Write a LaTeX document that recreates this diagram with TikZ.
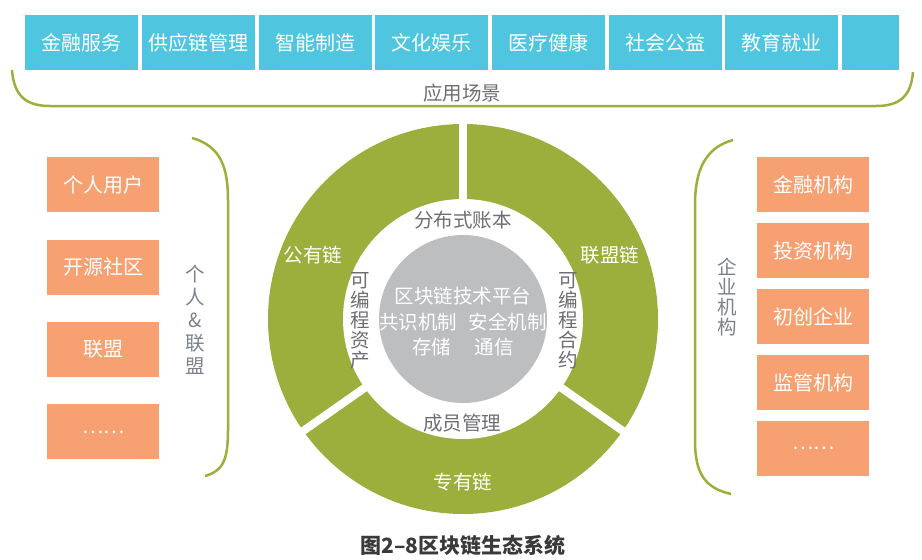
\documentclass[tikz,border=0pt]{standalone}
\usepackage{fontspec}
\setmainfont{Noto Sans CJK SC}
\usetikzlibrary{positioning}
\definecolor{scenecyan}{HTML}{4FC5E0}
\definecolor{partyorange}{HTML}{F7A072}
\definecolor{ringgreen}{HTML}{9CAF3C}
\definecolor{coregray}{HTML}{BDBEC0}
\definecolor{labelgray}{HTML}{6D6E71}
\definecolor{sidegray}{HTML}{7C818B}
\definecolor{captiongray}{HTML}{3A3A3C}

\begin{document}
\begin{tikzpicture}[x=1pt, y=-1pt, node distance=3.3pt,
    scene/.style={fill=scenecyan, text=white, minimum width=113pt, minimum height=55pt, inner sep=0pt, font=\fontsize{20}{20}\selectfont},
    party/.style={fill=partyorange, text=white, minimum width=112pt, minimum height=55pt, inner sep=0pt, font=\fontsize{20}{20}\selectfont},
    brace/.style={draw=ringgreen, line width=2.5pt},
    ringtext/.style={text=labelgray, font=\fontsize{19.5}{19.5}\selectfont},
    vtext/.style={align=center, inner sep=0pt, text=labelgray, font=\fontsize{19.5}{20}\selectfont},
    chain/.style={text=white, font=\fontsize{19.5}{19.5}\selectfont}]
    \useasboundingbox (0,0) rectangle (922,560);

    \node[scene, anchor=north west] (finance) at (25,15) {金融服务};
    \node[scene, right=of finance] (supply) {供应链管理};
    \node[scene, right=of supply] (making) {智能制造};
    \node[scene, right=of making] (culture) {文化娱乐};
    \node[scene, right=of culture] (health) {医疗健康};
    \node[scene, right=of health] (welfare) {社会公益};
    \node[scene, right=of welfare] (education) {教育就业};
    \node[scene, right=of education, minimum width=57pt] (scenemore) {};
    \draw[brace] (12,70) .. controls (14,96) and (26,106) .. (50,106) -- (876,106) .. controls (900,106) and (911,96) .. (913,72);
    \node[ringtext] (scenes) at (462,93) {应用场景};

    \node[party, anchor=north west] (personal) at (47,157) {个人用户};
    \node[party, below=27pt of personal] (opensource) {开源社区};
    \node[party, below=27pt of opensource] (alliance) {联盟};
    \node[party, below=27pt of alliance] (leftmore) {……};
    \draw[brace] (192,138) .. controls (221,146) and (228,168) .. (228,200) -- (228,430) .. controls (228,462) and (222,471) .. (205,476);
    \node[vtext, text=sidegray, font=\fontsize{19.5}{23}\selectfont] (members) at (195,320) {个\\人\\\&\\联\\盟};

    \node[party, anchor=north west] (bank) at (757,157) {金融机构};
    \node[party, below=10.5pt of bank] (invest) {投资机构};
    \node[party, below=10.5pt of invest] (startup) {初创企业};
    \node[party, below=10.5pt of startup] (regulator) {监管机构};
    \node[party, below=10.5pt of regulator] (rightmore) {……};
    \draw[brace] (733,140) .. controls (704,148) and (695,172) .. (695,205) -- (695,440) .. controls (695,474) and (705,488) .. (731,494);
    \node[vtext, text=sidegray] (enterprise) at (727,297) {企\\业\\机\\构};

    \coordinate (hub) at (463,319);
    \fill[ringgreen] (hub) circle[radius=195];
    \fill[white] (hub) circle[radius=120];
    \foreach \a in {270,145,35}
        \draw[white, line width=8pt] (hub) -- ++(\a:200);
    \fill[coregray] (hub) circle[radius=84];

    \node[chain] (public) at (313,255) {公有链};
    \node[chain] (consortium) at (610,255) {联盟链};
    \node[chain] (private) at (463,482) {专有链};
    \node[ringtext] (ledger) at (463,220) {分布式账本};
    \node[ringtext] (membership) at (462,423) {成员管理};
    \node[vtext] (assets) at (360,321) {可\\编\\程\\资\\产};
    \node[vtext] (contracts) at (568,321) {可\\编\\程\\合\\约};
    \node[align=center, text=white, font=\fontsize{19.5}{25.5}\selectfont] (platform) at (463,322) {区块链技术平台\\共识机制\hspace{0.6em}安全机制\\存储\hspace{1.2em}通信};

    \node[text=captiongray, font=\bfseries\fontsize{21}{21}\selectfont] (caption) at (463,545) {图2–8区块链生态系统};
\end{tikzpicture}
\end{document}
